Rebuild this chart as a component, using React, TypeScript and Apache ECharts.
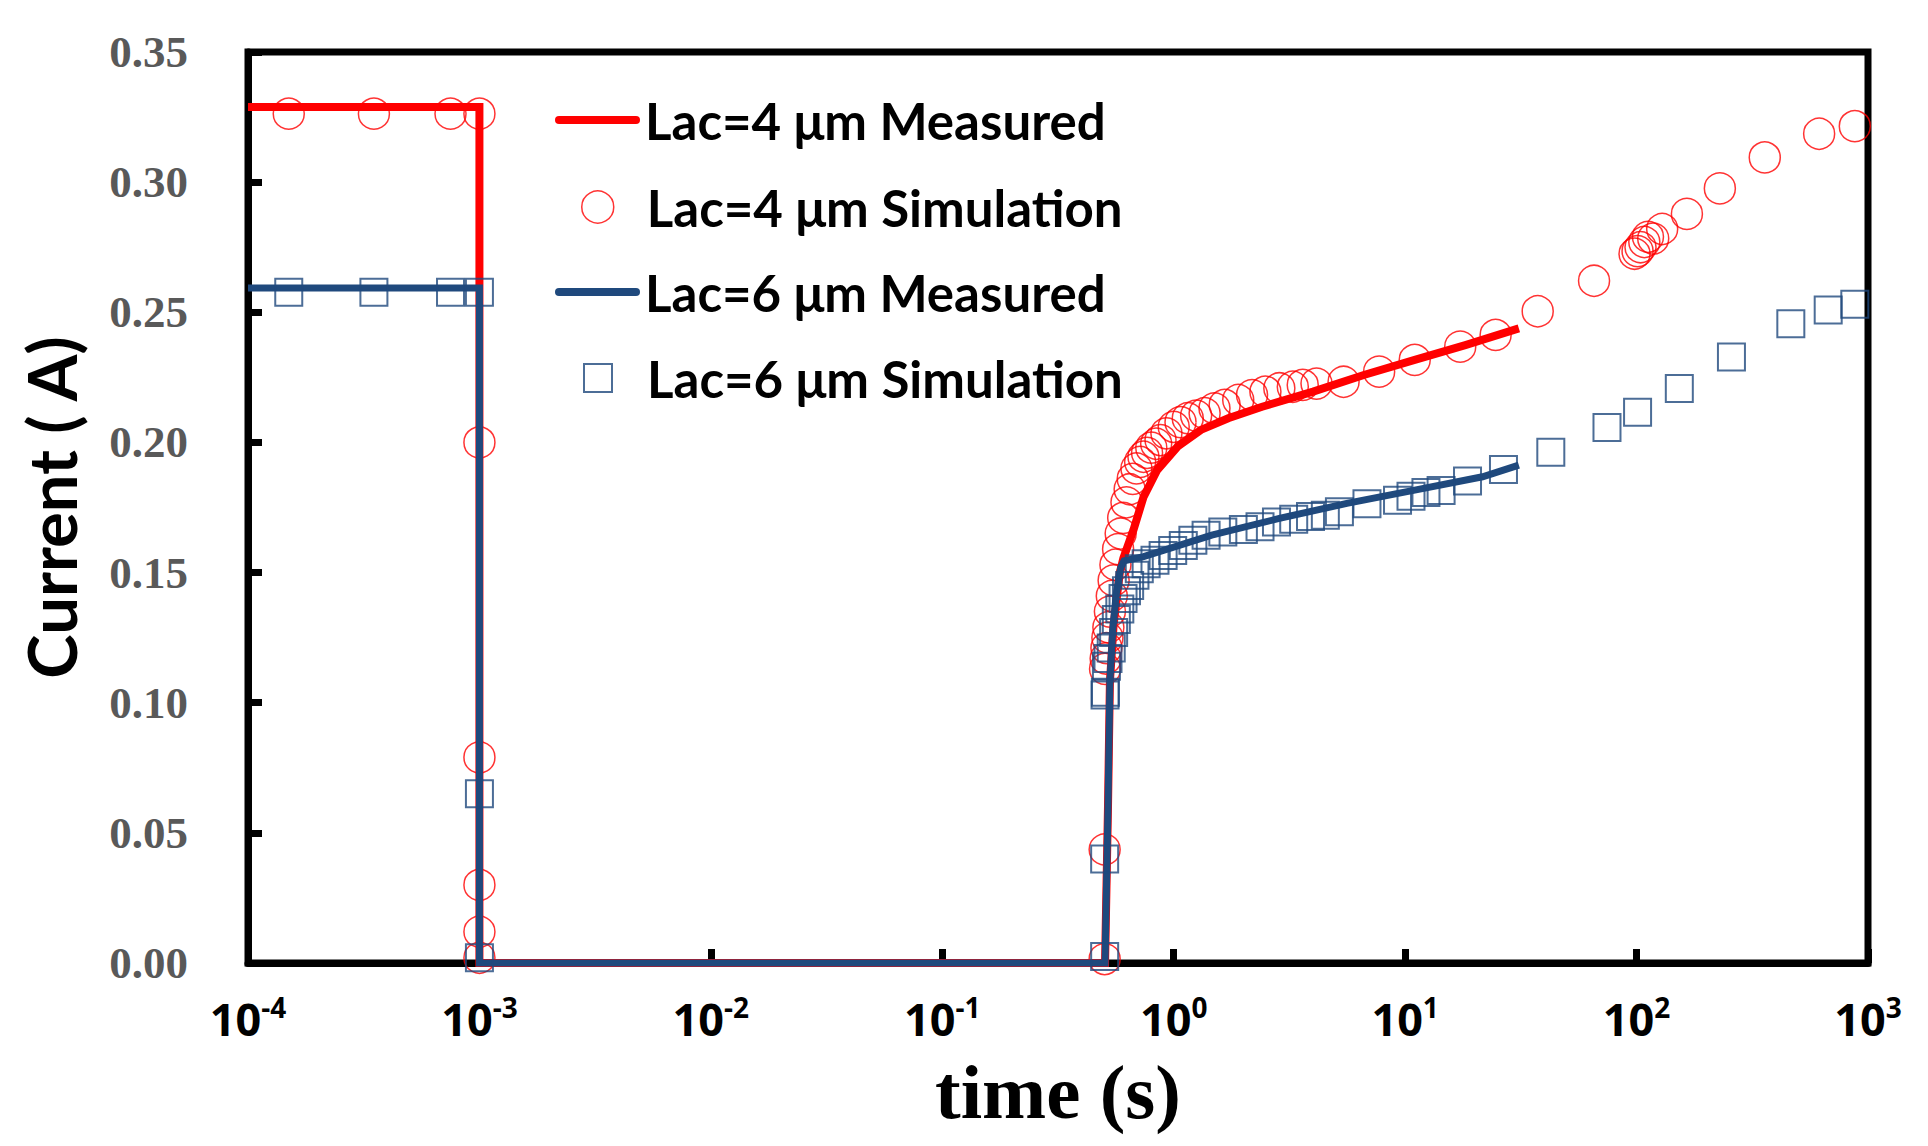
import React, { useEffect, useRef } from "react";
import * as echarts from "echarts";

const RED = "#FF0000";
const BLUE = "#1F497D";

const names = [
  "Lac=4 μm Measured",
  "Lac=4 μm Simulation",
  "Lac=6 μm Measured",
  "Lac=6 μm Simulation",
];

// [time (s), current (A)]
const measured4: number[][] = [
  [1e-4, 0.3289], [1e-3, 0.3289], [1e-3, 0], [0.505, 0], [0.52, 0.06],
  [0.53, 0.108], [0.55, 0.13], [0.585, 0.15], [0.606, 0.1555], [0.67, 0.1664],
  [0.741, 0.1791], [0.849, 0.1894], [1.04, 0.1984], [1.31, 0.2048], [1.72, 0.2093],
  [2.41, 0.2137], [4.0, 0.2195], [6.63, 0.2259], [11.0, 0.2317], [18.2, 0.2374],
  [31, 0.2438],
];

const measured6: number[][] = [
  [1e-4, 0.2593], [1e-3, 0.2593], [1e-3, 0], [0.505, 0], [0.52, 0.06],
  [0.53, 0.108], [0.545, 0.128], [0.565, 0.142], [0.59, 0.152], [0.61, 0.1545],
  [0.741, 0.1561], [1.46, 0.1644], [2.86, 0.1708], [5.6, 0.1766], [11.0, 0.1817],
  [21.6, 0.1868], [31, 0.1913],
];

const simulation4: number[][] = [
  [1.5e-4, 0.3263], [3.5e-4, 0.3263], [7.5e-4, 0.3263], [1.0e-3, 0.3263],
  [1.0e-3, 0.2], [1.0e-3, 0.079], [1.0e-3, 0.03], [1.0e-3, 0.012], [1.0e-3, 0.002],
  [0.503, 0.0015], [0.503, 0.0436],
  [0.505, 0.113], [0.508, 0.117], [0.512, 0.121], [0.517, 0.125], [0.522, 0.129],
  [0.53, 0.135], [0.54, 0.141], [0.55, 0.147], [0.56, 0.153], [0.575, 0.159],
  [0.59, 0.165], [0.605, 0.171], [0.625, 0.177], [0.645, 0.182], [0.665, 0.186],
  [0.69, 0.19], [0.716, 0.1925], [0.74, 0.1945], [0.767, 0.196], [0.8, 0.198],
  [0.84, 0.1995], [0.877, 0.2009], [0.93, 0.2035], [1.0, 0.206], [1.07, 0.2078],
  [1.15, 0.2093], [1.25, 0.2103], [1.36, 0.2112], [1.5, 0.2131], [1.66, 0.2144],
  [1.9, 0.2163], [2.18, 0.2182], [2.49, 0.2195], [2.86, 0.2208], [3.27, 0.2214],
  [3.61, 0.2221], [4.14, 0.2226], [5.42, 0.2233], [7.72, 0.2272], [11.0, 0.2317],
  [17.3, 0.2368], [24.6, 0.2413], [37.4, 0.2504], [65.5, 0.2621], [98, 0.2725],
  [101, 0.2735], [104, 0.275], [108, 0.277], [112, 0.279], [118, 0.2783],
  [129, 0.282], [165, 0.2878], [229, 0.2976], [358, 0.3095], [615, 0.3186],
  [877, 0.3215],
];

const simulation6: number[][] = [
  [1.5e-4, 0.2577], [3.5e-4, 0.2577], [7.5e-4, 0.2577], [1.0e-3, 0.2577],
  [1.0e-3, 0.065], [1.0e-3, 0.002],
  [0.503, 0.0025], [0.503, 0.04], [0.505, 0.103], [0.507, 0.104],
  [0.512, 0.114], [0.52, 0.117], [0.537, 0.121], [0.55, 0.127], [0.565, 0.132],
  [0.585, 0.136], [0.604, 0.14], [0.625, 0.143], [0.645, 0.145], [0.68, 0.149],
  [0.71, 0.1515], [0.76, 0.1534], [0.83, 0.1547], [0.9, 0.1566], [0.99, 0.1585],
  [1.1, 0.1604], [1.21, 0.1624], [1.38, 0.1643], [1.63, 0.1656], [2.0, 0.1665],
  [2.36, 0.1676], [2.78, 0.1694], [3.3, 0.1705], [3.9, 0.1715], [4.52, 0.172],
  [5.2, 0.1734], [6.84, 0.1764], [9.27, 0.1778], [10.6, 0.1793], [12.3, 0.1808],
  [14.3, 0.1815], [18.6, 0.1852], [26.6, 0.1896], [42.6, 0.1962], [74.5, 0.2057],
  [101, 0.2116], [153, 0.2207], [257, 0.2328], [464, 0.2456], [673, 0.2509],
  [877, 0.2531],
];

const legendTops = [92, 179, 264, 350];

const legendText = {
  fontSize: 51,
  fontWeight: "bold" as const,
  fontFamily: "Lato",
  color: "#000",
  lineHeight: 56,
};

const lineIcon = "path://M4,0H81A4,4,0,0,1,81,8H4A4,4,0,0,1,4,0Z";

const App: React.FC = () => {
  const chartRef = useRef<HTMLDivElement>(null);

  useEffect(() => {
    if (!chartRef.current) return;
    const chart = echarts.init(chartRef.current, undefined, { renderer: "svg" });

    const legendItem = (
      i: number,
      icon: string,
      left: number,
      w: number,
      h: number,
      pad: number,
      itemStyle: object
    ) => ({
      data: [{ name: names[i], icon, itemStyle }],
      left,
      top: legendTops[i],
      itemWidth: w,
      itemHeight: h,
      padding: 0,
      selectedMode: false,
      textStyle: { ...legendText, padding: [0, 0, 0, pad] },
    });

    chart.setOption({
      animation: false,
      backgroundColor: "#fff",
      grid: {
        left: 248,
        right: 60,
        top: 52,
        bottom: 183,
        show: true,
        borderColor: "#000",
        borderWidth: 7,
      },
      legend: [
        legendItem(0, lineIcon, 555, 85, 8, 0, { color: RED, borderWidth: 0 }),
        legendItem(1, "circle", 581, 32, 32, 28, {
          color: "rgba(0,0,0,0)",
          borderColor: RED,
          borderWidth: 1.5,
        }),
        legendItem(2, lineIcon, 555, 85, 8, 0, { color: BLUE, borderWidth: 0 }),
        legendItem(3, "rect", 583, 28, 28, 30, {
          color: "rgba(0,0,0,0)",
          borderColor: BLUE,
          borderWidth: 2,
        }),
      ],
      xAxis: {
        type: "log",
        logBase: 10,
        min: 1e-4,
        max: 1e3,
        splitNumber: 7,
        name: "time (s)",
        nameLocation: "middle",
        nameGap: 90,
        nameTextStyle: {
          fontFamily: "Liberation Serif",
          fontWeight: "bold",
          fontSize: 77,
          color: "#000",
        },
        axisLine: { show: true, lineStyle: { color: "#000", width: 7 } },
        axisTick: { show: true, inside: true, length: 14, lineStyle: { color: "#000", width: 7 } },
        splitLine: { show: false },
        axisLabel: {
          margin: 30,
          showMinLabel: true,
          showMaxLabel: true,
          formatter: (v: number) => `{b|10}{s|${Math.round(Math.log10(v))}}`,
          rich: {
            b: {
              fontFamily: "Open Sans",
              fontWeight: "bold",
              fontSize: 45,
              color: "#000",
              lineHeight: 50,
            },
            s: {
              fontFamily: "Open Sans",
              fontWeight: "bold",
              fontSize: 28,
              color: "#000",
              lineHeight: 30,
              verticalAlign: "top",
            },
          },
        },
      },
      yAxis: {
        type: "value",
        min: 0,
        max: 0.35,
        interval: 0.05,
        name: "Current ( A)",
        nameLocation: "middle",
        nameGap: 164,
        nameTextStyle: {
          fontFamily: "Lato",
          fontWeight: "bold",
          fontSize: 67,
          color: "#000",
        },
        axisLine: { show: true, lineStyle: { color: "#000", width: 7 } },
        axisTick: { show: true, inside: true, length: 14, lineStyle: { color: "#000", width: 7 } },
        splitLine: { show: false },
        axisLabel: {
          margin: 60,
          formatter: (v: number) => v.toFixed(2),
          fontFamily: "Liberation Serif",
          fontWeight: "bold",
          fontSize: 45,
          color: "#595959",
        },
      },
      series: [
        {
          name: names[0],
          type: "line",
          data: measured4,
          symbol: "none",
          clip: false,
          color: RED,
          lineStyle: { color: RED, width: 8, join: "miter" },
          z: 2,
        },
        {
          name: names[1],
          type: "scatter",
          data: simulation4,
          symbol: "circle",
          symbolSize: 31,
          color: RED,
          itemStyle: { color: "rgba(0,0,0,0)", borderColor: RED, borderWidth: 1.5 },
          z: 3,
        },
        {
          name: names[2],
          type: "line",
          data: measured6,
          symbol: "none",
          clip: false,
          color: BLUE,
          lineStyle: { color: BLUE, width: 7, join: "miter" },
          z: 4,
        },
        {
          name: names[3],
          type: "scatter",
          data: simulation6,
          symbol: "rect",
          symbolSize: 27,
          color: BLUE,
          itemStyle: { color: "rgba(0,0,0,0)", borderColor: BLUE, borderWidth: 2 },
          z: 5,
        },
      ],
    });

    return () => {
      chart.dispose();
    };
  }, []);

  return (
    <div
      ref={chartRef}
      style={{ position: "fixed", left: 0, top: 0, width: 1928, height: 1146, background: "#fff" }}
    />
  );
};

export default App;
